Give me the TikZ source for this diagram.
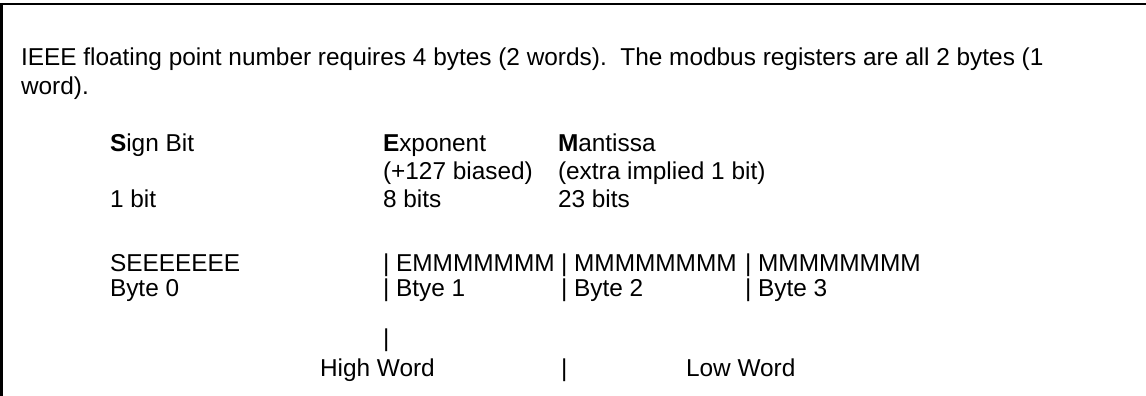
\documentclass[tikz,border=0pt]{standalone}
\usepackage{fontspec}
\setmainfont{Liberation Sans}
\begin{document}
\begin{tikzpicture}[x=1pt,y=-1pt,
  txt/.style={anchor=base west,inner sep=0pt,outer sep=0pt,font=\fontsize{24.4}{28}\selectfont},
  frame/.style={line width=2.2pt,black}]
\useasboundingbox (0,0) rectangle (1146,396);
% frame (top and left edges only)
\coordinate (fbl) at (1.5,396);
\coordinate (ftl) at (1.5,4);
\coordinate (ftr) at (1146,4);
\draw[frame] (fbl) -- (ftl) -- (ftr);
% intro text
\node[txt] (l1) at (21,66) {IEEE floating point number requires 4 bytes (2 words).\ \ The modbus registers are all 2 bytes (1};
\node[txt] (l2) at (21,94) {word).};
% headings
\node[txt] (sign) at (110,151) {\textbf{S}ign Bit};
\node[txt] (expo) at (383,151) {\textbf{E}xponent};
\node[txt] (mant) at (558,151) {\textbf{M}antissa};
\node[txt] (bias) at (383,179) {(+127 biased)};
\node[txt] (impl) at (558,179) {(extra implied 1 bit)};
\node[txt] (b1) at (110,207) {1 bit};
\node[txt] (b8) at (383,207) {8 bits};
\node[txt] (b23) at (558,207) {23 bits};
% bit layout
\node[txt] (s0) at (110,271) {SEEEEEEE};
\node[txt] (s1) at (383,271) {| EMMMMMMM};
\node[txt] (s2) at (561,271) {| MMMMMMMM};
\node[txt] (s3) at (745,271) {| MMMMMMMM};
\node[txt] (y0) at (110,296) {Byte 0};
\node[txt] (y1) at (383,296) {| Btye 1};
\node[txt] (y2) at (561,296) {| Byte 2};
\node[txt] (y3) at (745,296) {| Byte 3};
\node[txt] (bar1) at (383,346) {|};
\node[txt] (hw) at (320,376) {High Word};
\node[txt] (bar2) at (561,376) {|};
\node[txt] (lw) at (686,376) {Low Word};
\end{tikzpicture}
\end{document}
